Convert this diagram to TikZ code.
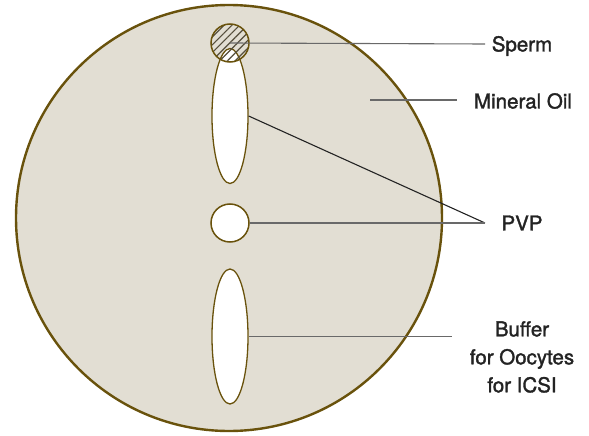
\documentclass[tikz,border=0pt]{standalone}
\usepackage{fontspec}
\setmainfont{Liberation Sans}
\newfontfamily\lblfont[FakeBold=1.6]{TeX Gyre Heros}
\usetikzlibrary{shapes.geometric,patterns.meta,positioning}
\definecolor{oilfill}{RGB}{226,222,211}
\definecolor{rimbrown}{RGB}{105,82,12}
\definecolor{leadgray}{RGB}{105,105,105}
\definecolor{txtgray}{RGB}{35,35,35}
\definecolor{hatchgray}{RGB}{85,78,60}

\begin{document}
\begin{tikzpicture}[x=1pt, y=-1pt,
  drop/.style={ellipse, draw=rimbrown, line width=1.3pt, fill=white,
               minimum width=36pt, minimum height=135pt, inner sep=0pt},
  blob/.style={circle, draw=rimbrown, line width=1.5pt, minimum size=38pt, inner sep=0pt},
  lbl/.style={font=\lblfont\fontsize{20.5}{28}\selectfont, text=txtgray, align=center},
  lead/.style={draw=leadgray, line width=1.1pt}
]
\useasboundingbox (0,0) rectangle (589,436);

% oil drop
\draw[fill=oilfill, draw=rimbrown, line width=2.4pt] (229,218) circle (213);

% medium drops
\node[drop] (upper) at (230,116) {};
\node[drop] (lower) at (230,336.5) {};
\node[blob, fill=white] (pvpdrop) at (230,223) {};
\node[blob, pattern={Lines[angle=45, distance=5.5pt, line width=1.2pt]},
      pattern color=hatchgray] (sperm) at (230,43) {};

% labels
\node[lbl] (spermtxt) at (522,46) {Sperm};
\node[lbl] (oiltxt) at (523,101) {Mineral Oil};
\node[lbl] (pvptxt) at (522,223) {PVP};
\node[lbl] (buftxt) at (522,357) {Buffer\\for Oocytes\\for ICSI};

% leaders
\coordinate (spermend) at (485,44);
\coordinate (oilstart) at (370,100);
\coordinate (oilend) at (457,100);
\coordinate (pvpjoin) at (485,223);
\coordinate (bufend) at (452,336.5);
\draw[lead] (sperm.center) -- (spermend);
\draw[lead] (oilstart) -- (oilend);
\draw[lead, draw=txtgray] (upper.east) -- (pvpjoin);
\draw[lead] (pvpdrop.east) -- (pvpjoin);
\draw[lead] (lower.east) -- (bufend);
\end{tikzpicture}
\end{document}
